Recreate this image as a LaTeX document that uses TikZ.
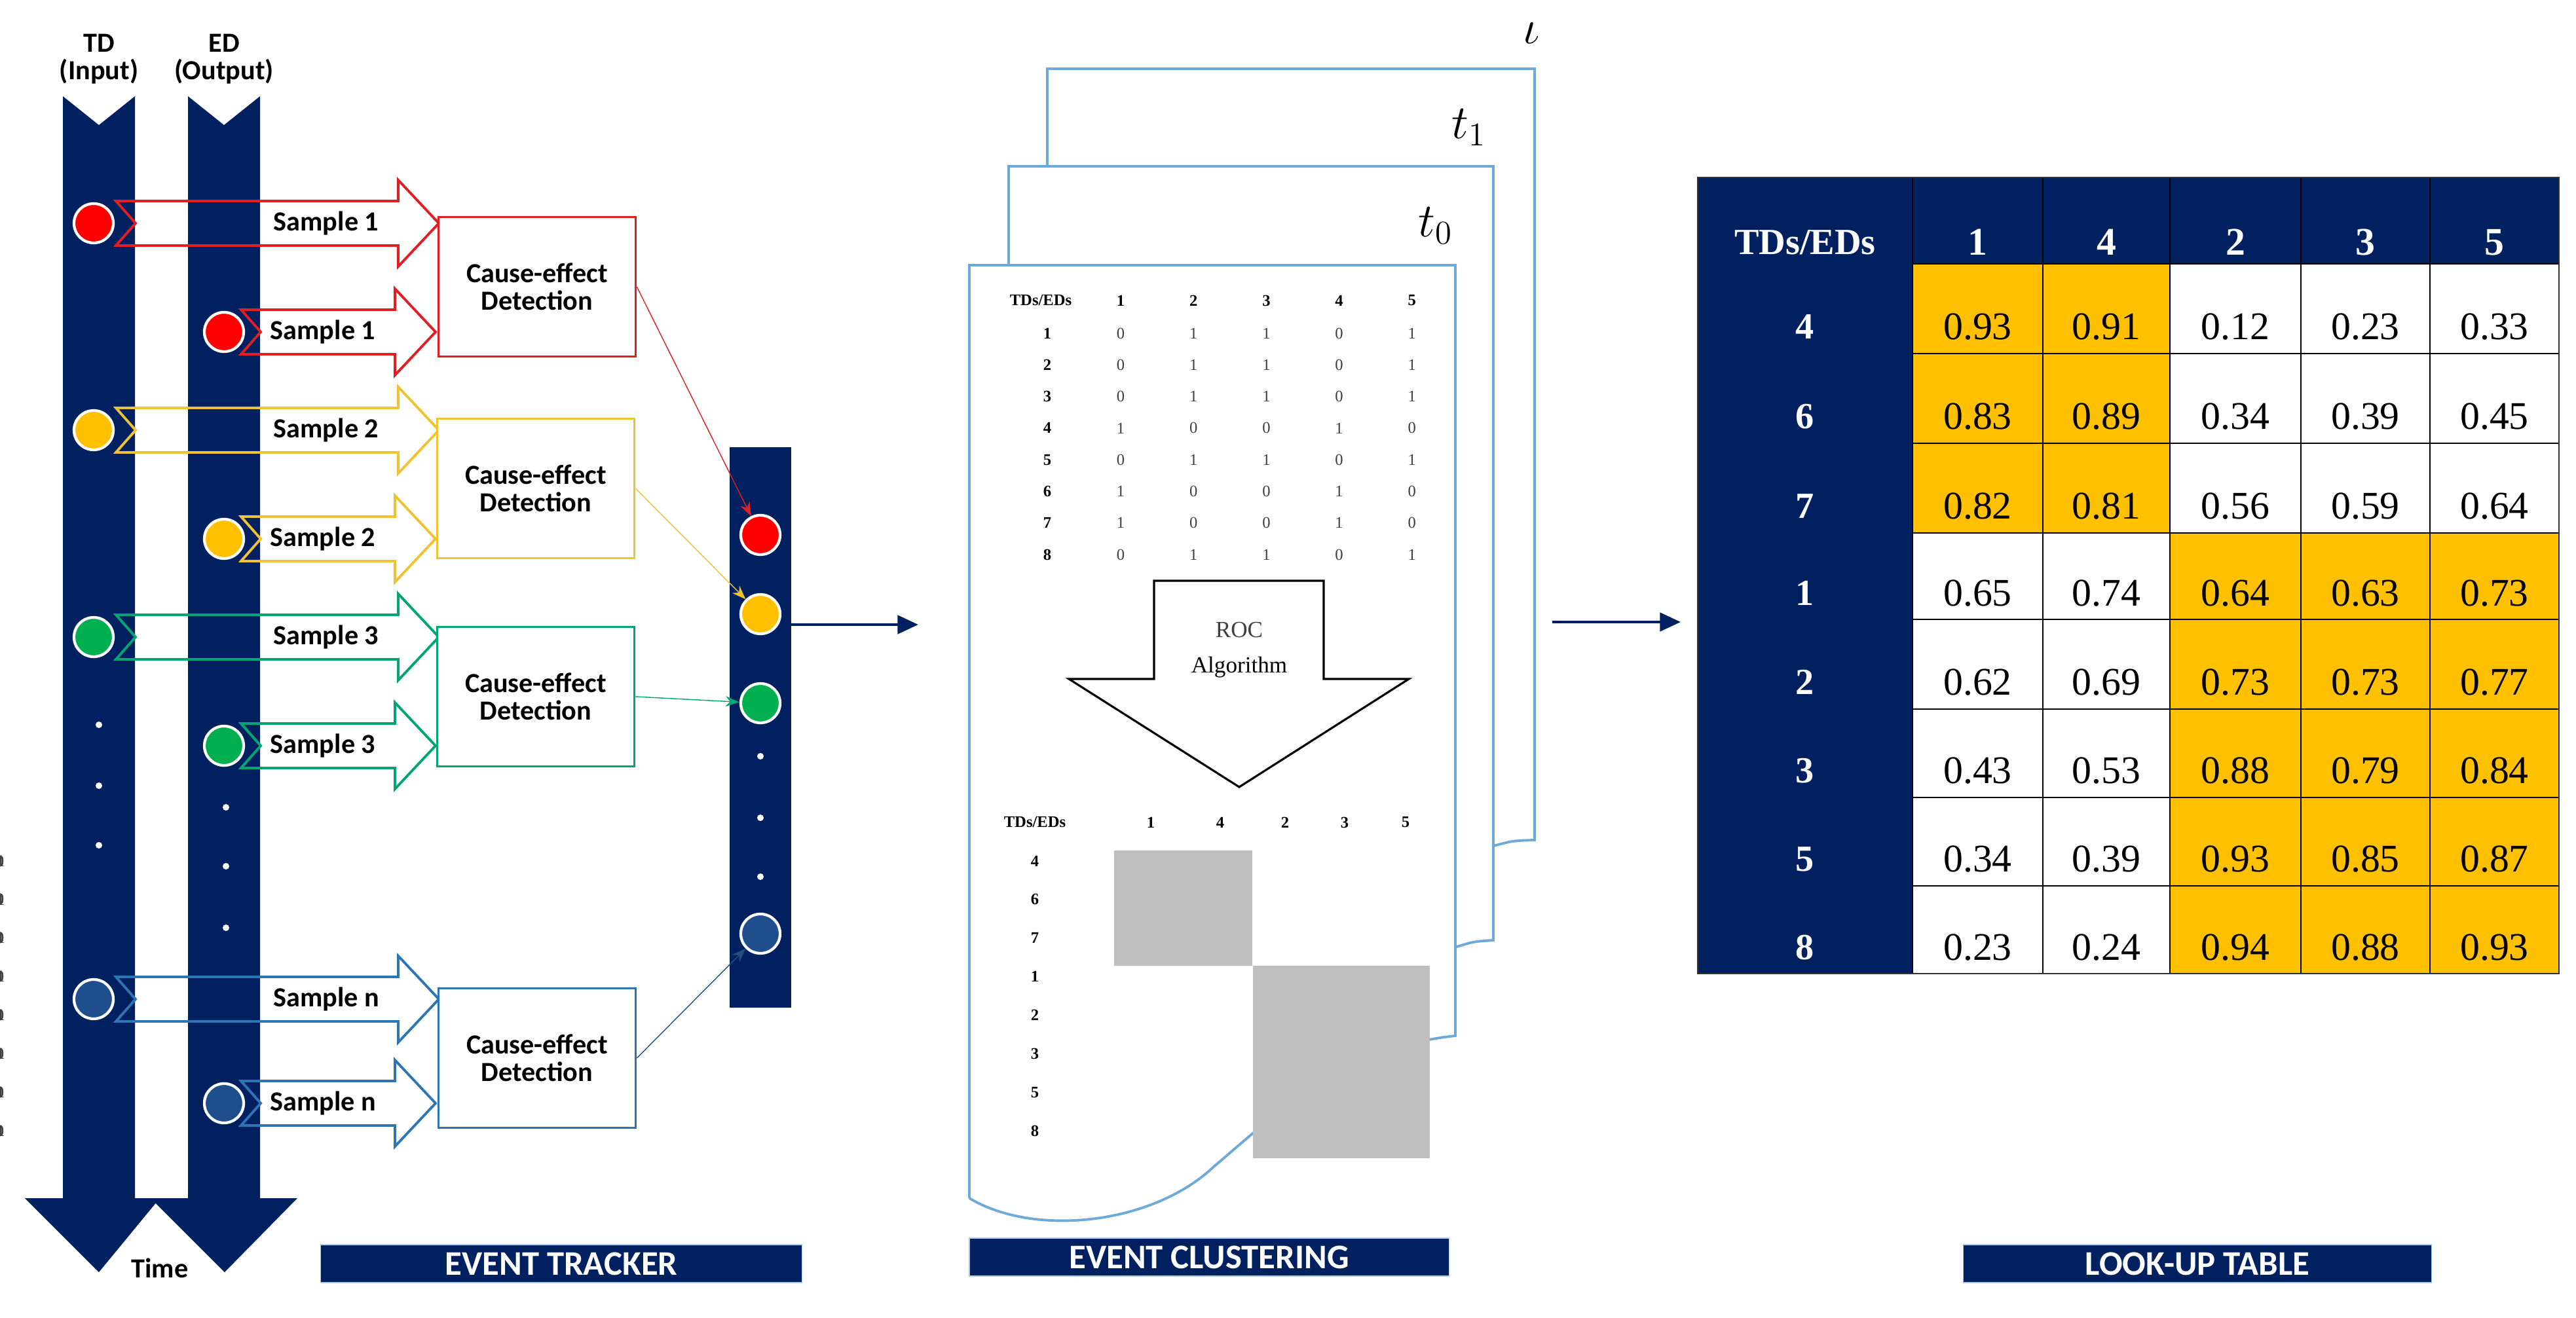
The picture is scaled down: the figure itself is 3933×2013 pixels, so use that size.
\documentclass[tikz,border=0pt]{standalone}
\usepackage{fontspec}
\setmainfont{Carlito}
\newfontfamily\tabfont{Liberation Serif}
\usetikzlibrary{arrows.meta,positioning}
\definecolor{navy}{RGB}{0,32,96}
\definecolor{lutorange}{RGB}{255,192,0}
\definecolor{sred}{RGB}{225,30,35}
\definecolor{syellow}{RGB}{240,195,50}
\definecolor{sgreen}{RGB}{0,165,115}
\definecolor{sblue}{RGB}{46,117,182}
\definecolor{cred}{RGB}{255,0,0}
\definecolor{cyellow}{RGB}{255,192,0}
\definecolor{cgreen}{RGB}{0,176,80}
\definecolor{cblue}{RGB}{31,78,140}
\definecolor{pageblue}{RGB}{110,170,215}
\newcommand*\fsz[1]{\fontsize{#1}{#1}\selectfont}
\tikzset{
    dot/.style={circle, draw=white, line width=1.2pt, fill=#1, minimum size=0.6cm, inner sep=0pt},
    wdot/.style={circle, fill=white, minimum size=0.1cm, inner sep=0pt},
    detect/.style={draw=#1, line width=1pt, fill=white, minimum width=3.01cm,
        minimum height=2.13cm, align=center, font=\fsz{12}\bfseries},
    link/.style={draw=#1, line width=0.4pt, -{Stealth[length=6pt]}},
    banner/.style={fill=navy, draw=pageblue!60, text=white, font=\fsz{15}\bfseries,
        minimum height=0.58cm, inner sep=0pt},
    page/.style={draw=pageblue, line width=1.1pt, fill=white},
    small/.style={font=\tabfont\fsz{7}, text=black!75},
    smallb/.style={font=\tabfont\fsz{7}\bfseries},
    bigarrow/.style={navy, line width=1.3pt, -{Triangle[length=9pt,width=8pt]}}
}
% hollow arrow: start x, y, head x, tip x, colour, label
\newcommand\samplearrow[7]{%
    \draw[#5, line width=1.1pt] (#1,#2-34) -- (#3,#2-34) -- (#3,#2-66) -- (#4,#2)
        -- (#3,#2+66) -- (#3,#2+34) -- (#1,#2+34) -- (#1+30,#2) -- cycle;
    \node[font=\fsz{12}\bfseries, text=black] (#6) at (#3-110,#2) {#7};
}
% look-up table row: top, bottom, label, five values, highlight
\newcommand\lutrow[9]{%
    \ifnum#9=1 \colorlet{lutA}{lutorange}\colorlet{lutB}{white}%
    \else \colorlet{lutA}{white}\colorlet{lutB}{lutorange}\fi
    \node[text=white, font=\tabfont\fsz{16}\bfseries] (lut-#3) at (2756,{#1+0.7*(#2-#1)}) {#3};
    \foreach \xa/\xb/\v/\c [count=\j] in {2920/3119/#4/lutA, 3119/3313/#5/lutA,
            3313/3513/#6/lutB, 3513/3710/#7/lutB, 3710/3907/#8/lutB} {
        \filldraw[fill=\c, draw=black, line width=0.8pt] (\xa,#1) rectangle (\xb,#2);
        \node[font=\tabfont\fsz{17}] (lut-#3-\j) at ({(\xa+\xb)/2},{#1+0.7*(#2-#1)}) {\v};
    }
}

\begin{document}
\begin{tikzpicture}[x=0.01cm,y=-0.01cm]
    \useasboundingbox (0,0) rectangle (3933,2013);

    % Time axes.
    \fill[navy] (96,147) -- (151,191) -- (206,147) -- (206,1830) -- (244,1830)
        -- (151,1943) -- (38,1830) -- (96,1830) -- cycle;
    \fill[navy] (287,147) -- (342,191) -- (397,147) -- (397,1830) -- (454,1830)
        -- (343,1943) -- (230,1830) -- (287,1830) -- cycle;
    \node[align=center, font=\fsz{12}\bfseries] (tdlbl) at (151,90) {TD\\(Input)};
    \node[align=center, font=\fsz{12}\bfseries] (edlbl) at (342,90) {ED\\(Output)};
    \node[font=\fsz{12}\bfseries] (time) at (244,1937) {Time};

    \foreach \y in {1107,1200,1291}
        \node[wdot] at (151,\y) {};
    \foreach \y in {1233,1323,1417}
        \node[wdot] at (345,\y) {};

    % Samples.
    \samplearrow{177}{341}{608}{670}{sred}{sA1}{Sample 1}
    \samplearrow{368}{507}{603}{665}{sred}{sA2}{Sample 1}
    \samplearrow{177}{657}{608}{670}{syellow}{sB1}{Sample 2}
    \samplearrow{368}{823}{603}{665}{syellow}{sB2}{Sample 2}
    \samplearrow{177}{973}{608}{670}{sgreen}{sC1}{Sample 3}
    \samplearrow{368}{1139}{603}{665}{sgreen}{sC2}{Sample 3}
    \samplearrow{177}{1526}{608}{670}{sblue}{sN1}{Sample n}
    \samplearrow{368}{1685}{603}{665}{sblue}{sN2}{Sample n}

    \node[dot=cred] (tdA) at (143,341) {};
    \node[dot=cred] (edA) at (342,507) {};
    \node[dot=cyellow] (tdB) at (143,657) {};
    \node[dot=cyellow] (edB) at (342,823) {};
    \node[dot=cgreen] (tdC) at (143,973) {};
    \node[dot=cgreen] (edC) at (342,1139) {};
    \node[dot=cblue] (tdN) at (143,1526) {};
    \node[dot=cblue] (edN) at (342,1685) {};

    % Cause-effect boxes.
    \node[detect=sred] (detA) at (820,438) {Cause-effect\\Detection};
    \node[detect=syellow] (detB) at (818,746) {Cause-effect\\Detection};
    \node[detect=sgreen] (detC) at (818,1064) {Cause-effect\\Detection};
    \node[detect=sblue] (detN) at (820,1616) {Cause-effect\\Detection};

    % Event bar.
    \node[fill=navy, minimum width=0.93cm, minimum height=8.56cm, inner sep=0pt] (evbar) at (1161,1111) {};
    \node[dot=cred] (evA) at (1161,817) {};
    \node[dot=cyellow] (evB) at (1161,938) {};
    \node[dot=cgreen] (evC) at (1161,1074) {};
    \foreach \y in {1155,1249,1339}
        \node[wdot] at (1161,\y) {};
    \node[dot=cblue] (evN) at (1161,1426) {};

    \draw[link=sred] (detA.east) -- (evA);
    \draw[link=syellow] (detB.east) -- (evB);
    \draw[link=sgreen] (detC.east) -- (evC);
    \draw[link=sblue!70!black] (detN.east) -- (evN);

    \coordinate (clin) at (1402,954);
    \draw[bigarrow] (evbar.east |- clin) -- (clin);

    % Stacked pages.
    \filldraw[page] (1599,1300) -- (1599,105) -- (2343,105) -- (2343,1283)
        .. controls (2310,1284) .. (2280,1292) -- cycle;
    \filldraw[page] (1540,1460) -- (1540,254) -- (2280,254) -- (2280,1436)
        .. controls (2250,1438) .. (2224,1446) -- cycle;
    \filldraw[page] (1480,1830) -- (1480,405) -- (2222,405) -- (2222,1582)
        .. controls (2050,1600) and (1950,1700) .. (1853,1782)
        .. controls (1760,1870) and (1580,1890) .. (1480,1830);
    \node[font=\fsz{20}] (tz) at (2192,345) {$t_0$};
    \node[font=\fsz{20}] (tone) at (2243,195) {$t_1$};
    \node[font=\fsz{20}] (tl) at (2338,51) {$\iota$};

    % Binary table.
    \node[smallb] (hd) at (1589,459) {TDs/EDs};
    \foreach \c [count=\j] in {1,2,3,4,5}
        \node[smallb] (hd-\j) at ({1711+(\j-1)*111.2},459) {\c};
    \foreach \r/\vals [count=\i] in {1/{0,1,1,0,1},2/{0,1,1,0,1},3/{0,1,1,0,1},
            4/{1,0,0,1,0},5/{0,1,1,0,1},6/{1,0,0,1,0},7/{1,0,0,1,0},8/{0,1,1,0,1}} {
        \node[smallb] (rw-\i) at (1599,{509+(\i-1)*48.3}) {\r};
        \foreach \v [count=\j] in \vals
            \node[small] (bin-\i-\j) at ({1711+(\j-1)*111.2},{509+(\i-1)*48.3}) {\v};
    }

    % ROC arrow.
    \draw[line width=0.9pt, fill=white] (1762,887) -- (2021,887) -- (2021,1037) -- (2151,1037)
        -- (1892,1202) -- (1632,1037) -- (1762,1037) -- cycle;
    \node[font=\tabfont\fsz{10}, text=black!75] (roc) at (1892,962) {ROC};
    \node[font=\tabfont\fsz{10}] (alg) at (1892,1019) {Algorithm};

    % Clustered table.
    \fill[black!25] (1701,1299) rectangle (1912,1475);
    \fill[black!25] (1913,1475) rectangle (2183,1769);
    \node[smallb] (ch) at (1580,1256) {TDs/EDs};
    \foreach \c/\x in {1/1757,4/1863,2/1962,3/2053,5/2146}
        \node[smallb] (ch-\c) at (\x,1256) {\c};
    \foreach \r/\vals [count=\i] in {4/{1,1,0,0,0},6/{1,1,0,0,0},7/{1,1,0,0,0},
            1/{0,0,1,1,1},2/{0,0,1,1,1},3/{0,0,1,1,1},5/{0,0,1,1,1},8/{0,0,1,1,1}} {
        \node[smallb] (cr-\i) at (1580,{1315+(\i-1)*58.9}) {\r};
        \foreach \v/\x [count=\j] in \vals
            \node[small] (cl-\i-\j) at ({\x},{1315+(\i-1)*58.9}) {\v};
    }

    \coordinate (clout) at (2370,950);
    \coordinate (lutin) at (2566,950);
    \draw[bigarrow] (clout) -- (lutin);

    % Look-up table.
    \fill[navy] (2592,271) rectangle (3907,1487);
    \node[text=white, font=\tabfont\fsz{16}\bfseries] (luthd) at (2756,370) {TDs/EDs};
    \foreach \c/\xa/\xb in {1/2920/3119,4/3119/3313,2/3313/3513,3/3513/3710,5/3710/3907} {
        \draw[black, line width=0.8pt] (\xa,271) -- (\xa,403);
        \node[text=white, font=\tabfont\fsz{17}\bfseries] (luthd-\c) at ({(\xa+\xb)/2},370) {\c};
    }
    \lutrow{403}{540}{4}{0.93}{0.91}{0.12}{0.23}{0.33}{1}
    \lutrow{540}{677}{6}{0.83}{0.89}{0.34}{0.39}{0.45}{1}
    \lutrow{677}{814}{7}{0.82}{0.81}{0.56}{0.59}{0.64}{1}
    \lutrow{814}{946}{1}{0.65}{0.74}{0.64}{0.63}{0.73}{2}
    \lutrow{946}{1083}{2}{0.62}{0.69}{0.73}{0.73}{0.77}{2}
    \lutrow{1083}{1218}{3}{0.43}{0.53}{0.88}{0.79}{0.84}{2}
    \lutrow{1218}{1353}{5}{0.34}{0.39}{0.93}{0.85}{0.87}{2}
    \lutrow{1353}{1487}{8}{0.23}{0.24}{0.94}{0.88}{0.93}{2}
    \draw[black!80, line width=0.8pt] (2592,271) rectangle (3907,1487);

    % Banners.
    \node[banner, minimum width=7.35cm] (tracker) at (857,1930) {EVENT TRACKER};
    \node[banner, minimum width=7.32cm] (clustering) at (1846,1920) {EVENT CLUSTERING};
    \node[banner, minimum width=7.15cm] (lookup) at (3355,1930) {LOOK-UP TABLE};
\end{tikzpicture}
\end{document}
